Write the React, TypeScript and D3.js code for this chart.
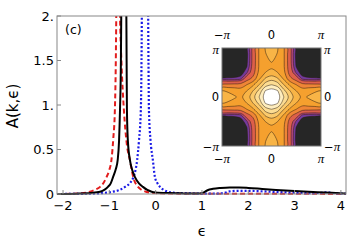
import * as d3 from "d3";
import React from "react";

const W = 353;
const H = 249;

// main panel ticks
const yTicks = [0, 0.5, 1, 1.5, 2];
const yTickLabels = ["0", "0.5", "1.", "1.5", "2."];
const xTicks = [-2, -1, 0, 1, 2, 3, 4];
const xTickLabels = ["\u22122", "\u22121", "0", "1", "2", "3", "4"];

// red dashed curve
const redE = [-2.13, -1.8, -1.6, -1.42, -1.3, -1.2, -1.12, -1.06, -1.0, -0.955, -0.915, -0.88, -0.86, -0.845, -0.81, -0.77, -0.74, -0.685, -0.62, -0.555, -0.484, -0.38, -0.3, -0.21, -0.1, 0, 0.5, 1, 2, 3, 4.11];
const redA = [0, 0.003, 0.008, 0.026, 0.05, 0.08, 0.13, 0.19, 0.27, 0.38, 0.62, 0.95, 1.5, 2.3, 3.4, 2.0, 1.5, 0.94, 0.55, 0.38, 0.19, 0.08, 0.045, 0.026, 0.015, 0.01, 0.004, 0.003, 0.003, 0.002, 0.001];

// black solid curve
const blackE = [-2.13, -1.7, -1.4, -1.2, -1.1, -1.03, -0.97, -0.92, -0.86, -0.82, -0.79, -0.77, -0.75, -0.74, -0.69, -0.635, -0.627, -0.62, -0.6, -0.555, -0.5, -0.447, -0.36, -0.274, -0.18, -0.086, 0, 0.3, 0.6, 0.9, 1.0, 1.05, 1.12, 1.24, 1.4, 1.6, 1.8, 2.0, 2.3, 2.6, 2.9, 3.2, 3.5, 3.8, 4.11];
const blackA = [0, 0.004, 0.012, 0.026, 0.05, 0.08, 0.12, 0.19, 0.28, 0.38, 0.6, 0.94, 1.5, 2.2, 3.5, 2.2, 1.5, 0.94, 0.6, 0.38, 0.26, 0.19, 0.12, 0.08, 0.045, 0.026, 0.018, 0.01, 0.007, 0.006, 0.008, 0.022, 0.042, 0.058, 0.068, 0.074, 0.073, 0.068, 0.057, 0.046, 0.037, 0.029, 0.021, 0.013, 0.006];

// blue dotted curve
const blueE = [-2.13, -1.6, -1.3, -1.1, -0.92, -0.78, -0.66, -0.56, -0.48, -0.43, -0.4, -0.36, -0.32, -0.305, -0.295, -0.23, -0.165, -0.155, -0.145, -0.11, -0.06, -0.015, 0.04, 0.093, 0.18, 0.266, 0.4, 0.6, 0.9, 1.2, 1.4, 1.5, 1.6, 1.8, 2.1, 2.4, 2.7, 3.0, 3.3, 3.55, 3.7, 3.8, 4.0, 4.11];
const blueA = [0, 0.002, 0.006, 0.012, 0.026, 0.045, 0.08, 0.12, 0.19, 0.28, 0.38, 0.6, 0.94, 1.5, 2.2, 3.6, 2.2, 1.5, 0.94, 0.6, 0.38, 0.19, 0.12, 0.08, 0.045, 0.026, 0.014, 0.008, 0.005, 0.004, 0.006, 0.015, 0.03, 0.036, 0.034, 0.028, 0.02, 0.014, 0.01, 0.012, 0.02, 0.012, 0.006, 0.004];

// inset: one quadrant (rows = |ky| step pi/8, cols = |kx| step pi/8), mirrored
const insetQuadrant = [
  [10, 9.5, 8.0, 6.6, 5.4, 4.8, 5.1, 5.3, 5.4],
  [9.5, 9.05, 7.3, 6.0, 5.0, 4.5, 4.7, 4.9, 5.05],
  [8.0, 7.5, 6.0, 4.8, 4.0, 3.4, 3.3, 3.25, 3.2],
  [6.6, 6.1, 4.8, 3.3, 2.5, 1.3, 1.15, 1.1, 1.05],
  [5.3, 5.0, 4.3, 2.5, 1.4, 0.6, 0.4, 0.4, 0.4],
  [4.8, 4.6, 4.1, 2.3, 0.95, 0.4, 0.2, 0.15, 0.1],
  [5.1, 4.8, 4.1, 2.25, 0.85, 0.3, 0.15, 0.1, 0.05],
  [5.3, 4.95, 4.1, 2.25, 0.8, 0.25, 0.1, 0.05, 0],
  [5.5, 5.05, 4.1, 2.25, 0.8, 0.2, 0.1, 0.05, 0],
];
const insetLevels = [1, 1.5, 2, 3, 4, 5, 6, 7, 8, 9];
const insetColors = ["#733a9b", "#b4467a", "#dd5f4a", "#ef8536", "#f5a02e", "#f8b446", "#fbca6c", "#fcdc92", "#feedbe", "#ffffff"];
const insetBase = "#262626";

const PI = Math.PI;
const insetTicks = [-PI, 0, PI];

const sans = "'DejaVu Sans', Verdana, sans-serif";
const serif = "'Liberation Serif', 'DejaVu Serif', serif";

const PiLabel = ({ v }: { v: number }) => {
  if (v === 0) return <tspan fontFamily={sans}>0</tspan>;
  return (
    <>
      {v < 0 && <tspan fontFamily={sans}>{"\u2212"}</tspan>}
      <tspan fontFamily={serif} fontStyle="italic" fontSize={13}>{"\u03c0"}</tspan>
    </>
  );
};

// baseline offset for side labels of the inset
const sideOffset = (t: number) => (t > 0 ? 6 : t < 0 ? 4.5 : 4);

export default function App() {
  const x = d3.scaleLinear().domain([-2.13, 4.11]).range([57, 346]);
  const y = d3.scaleLinear().domain([0, 2]).range([194, 16]);

  const path = (es: number[], as: number[]) =>
    d3
      .line<number>()
      .x((d) => x(d))
      .y((_, i) => y(as[i]))
      .curve(d3.curveMonotoneX)(es) || "";

  // inset grid
  const n = 17;
  const grid: number[] = [];
  for (let r = 0; r < n; r++)
    for (let c = 0; c < n; c++)
      grid.push(insetQuadrant[Math.abs(r - 8)][Math.abs(c - 8)]);
  const contours = d3.contours().size([n, n]).thresholds(insetLevels)(grid);

  const ix = d3.scaleLinear().domain([-PI, PI]).range([222, 321]);
  const iy = d3.scaleLinear().domain([-PI, PI]).range([146, 48]);
  const gx = d3.scaleLinear().domain([0.5, n - 0.5]).range([222, 321]);
  const gy = d3.scaleLinear().domain([0.5, n - 0.5]).range([48, 146]);
  const ring = d3
    .line<number[]>()
    .x((p) => gx(p[0]))
    .y((p) => gy(p[1]))
    .curve(d3.curveCatmullRomClosed.alpha(0.5));
  const contourPath = (mp: any) =>
    mp.coordinates
      .map((poly: number[][][]) =>
        poly.map((rg) => ring(rg.slice(0, -1)) || "").join("")
      )
      .join("");

  return (
    <svg
      width={W}
      height={H}
      style={{ position: "absolute", left: 0, top: 0, background: "#fff" }}
      fontFamily={sans}
    >
      <defs>
        <clipPath id="plotClip">
          <rect x={57} y={16} width={289} height={181} />
        </clipPath>
        <clipPath id="insetClip">
          <rect x={222} y={48} width={99} height={98} />
        </clipPath>
      </defs>

      {/* curves */}
      <g clipPath="url(#plotClip)" fill="none">
        <path d={path(redE, redA)} stroke="#e21d1d" strokeWidth={2} strokeDasharray="5 3" />
        <path d={path(blueE, blueA)} stroke="#1b1be6" strokeWidth={2.2} strokeDasharray="2 2" />
        <path d={path(blackE, blackA)} stroke="#000" strokeWidth={2} />
      </g>

      {/* frame */}
      <rect x={57} y={16} width={289} height={178} fill="none" stroke="#888" strokeWidth={1} />
      {yTicks.map((t) => (
        <line key={"yt" + t} x1={57} x2={61} y1={y(t)} y2={y(t)} stroke="#888" />
      ))}
      {xTicks.map((t) => (
        <line key={"xt" + t} x1={x(t)} x2={x(t)} y1={194} y2={190} stroke="#888" />
      ))}
      {yTicks.map((t, i) => (
        <text key={"yl" + t} x={54} y={y(t) + 4.7} fontSize={13} textAnchor="end">
          {yTickLabels[i]}
        </text>
      ))}
      {xTicks.map((t, i) => (
        <text key={"xl" + t} x={x(t)} y={210} fontSize={13} textAnchor="middle">
          {xTickLabels[i]}
        </text>
      ))}
      <text x={202} y={236} fontSize={14} textAnchor="middle">{"\u03f5"}</text>
      <text
        transform="translate(18,106) rotate(-90)"
        fontSize={15}
        textAnchor="middle"
      >
        A(k,{"\u03f5"})
      </text>
      <text x={65} y={34} fontSize={12.5}>(c)</text>

      {/* inset density plot */}
      <g clipPath="url(#insetClip)">
        <rect x={222} y={48} width={99} height={98} fill={insetBase} />
        {contours.map((c, i) => (
          <path key={"cf" + i} d={contourPath(c)} fill={insetColors[i]} fillRule="evenodd" />
        ))}
        {contours.map((c, i) => (
          <path key={"cl" + i} d={contourPath(c)} fill="none" stroke="#2a1c10" strokeWidth={0.6} strokeOpacity={0.85} />
        ))}
      </g>
      <rect x={222} y={48} width={99} height={98} fill="none" stroke="#777" strokeWidth={1} />
      <g fontSize={11.5}>
        {insetTicks.map((t) => (
          <text key={"it" + t} x={ix(t)} y={39} textAnchor="middle">
            <PiLabel v={t} />
          </text>
        ))}
        {insetTicks.map((t) => (
          <text key={"ib" + t} x={ix(t)} y={163} textAnchor="middle">
            <PiLabel v={t} />
          </text>
        ))}
        {insetTicks.map((t) => (
          <text key={"il" + t} x={219} y={iy(t) + sideOffset(t)} textAnchor="end">
            <PiLabel v={t} />
          </text>
        ))}
        {insetTicks.map((t) => (
          <text key={"ir" + t} x={324} y={iy(t) + sideOffset(t)} textAnchor="start">
            <PiLabel v={t} />
          </text>
        ))}
      </g>
    </svg>
  );
}
